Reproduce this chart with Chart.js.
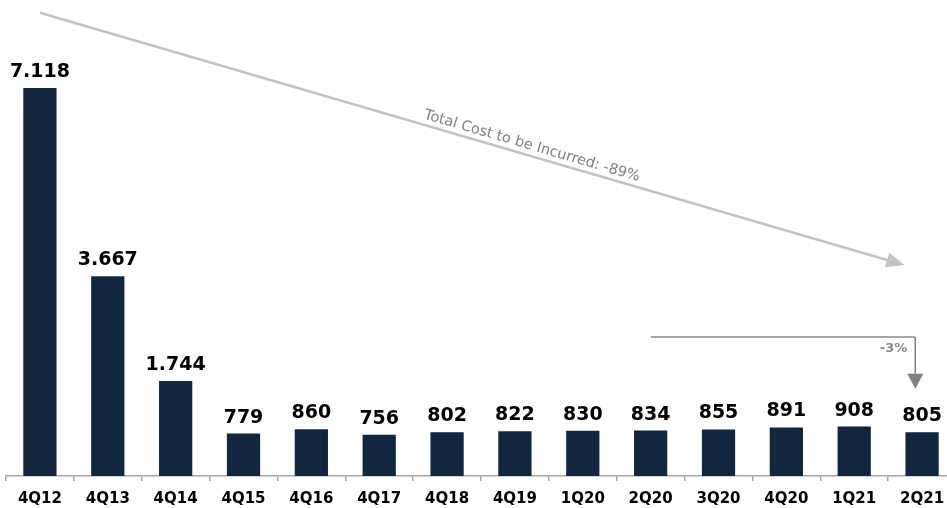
<!DOCTYPE html>
<html>
<head>
<meta charset="utf-8">
<script src="https://cdn.jsdelivr.net/npm/chart.js@4.4.1/dist/chart.umd.min.js"></script>
<style>
  html, body { margin: 0; padding: 0; background: #ffffff; overflow: hidden; }
  #wrap { width: 960px; height: 508px; position: relative; }
</style>
</head>
<body>
<div id="wrap"><canvas id="c"></canvas></div>
<script>
// ---- data ----
const categories = ['4Q12','4Q13','4Q14','4Q15','4Q16','4Q17','4Q18','4Q19','1Q20','2Q20','3Q20','4Q20','1Q21','2Q21'];
const values = [7118, 3667, 1744, 779, 860, 756, 802, 822, 830, 834, 855, 891, 908, 805];
const yMax = 8000;
// annotation anchors (category index, value)
const trendFrom = [0, 8500];
const trendTo = [12.74, 3870];
const trendLabel = 'Total Cost to be Incurred: -89%';
const changeFromIndex = 9;
const changeToIndex = 12.9;
const changeLevel = 2550;
const changeTip = 1600;
const changeLabel = '-3%';

function fmt(v) {
  return String(v).replace(/\B(?=(\d{3})+(?!\d))/g, '.');
}

function arrow(ctx, x1, y1, x2, y2, color, width, headLen, headW) {
  const ang = Math.atan2(y2 - y1, x2 - x1);
  const bx = x2 - headLen * Math.cos(ang), by = y2 - headLen * Math.sin(ang);
  ctx.save();
  ctx.strokeStyle = color; ctx.fillStyle = color; ctx.lineWidth = width;
  ctx.beginPath(); ctx.moveTo(x1, y1); ctx.lineTo(bx, by); ctx.stroke();
  ctx.beginPath();
  ctx.moveTo(x2, y2);
  ctx.lineTo(bx + headW / 2 * Math.sin(ang), by - headW / 2 * Math.cos(ang));
  ctx.lineTo(bx - headW / 2 * Math.sin(ang), by + headW / 2 * Math.cos(ang));
  ctx.closePath(); ctx.fill();
  ctx.restore();
}

const overlay = {
  id: 'overlay',
  afterDraw(chart) {
    const ctx = chart.ctx;
    const xs = chart.scales.x, ys = chart.scales.y;
    // value labels
    const meta = chart.getDatasetMeta(0);
    ctx.save();
    ctx.font = 'bold 19px "DejaVu Sans", Verdana, sans-serif';
    ctx.fillStyle = '#000000';
    ctx.textAlign = 'center';
    ctx.textBaseline = 'alphabetic';
    meta.data.forEach((bar, i) => {
      ctx.fillText(fmt(values[i]), bar.x, bar.y - 11);
    });
    ctx.restore();

    // trend arrow
    const x1 = xs.getPixelForValue(trendFrom[0]), y1 = ys.getPixelForValue(trendFrom[1]);
    const x2 = xs.getPixelForValue(trendTo[0]), y2 = ys.getPixelForValue(trendTo[1]);
    arrow(ctx, x1, y1, x2, y2, '#c3c3c3', 2.5, 18, 15);
    const ang = Math.atan2(y2 - y1, x2 - x1);
    const t = 0.566;
    const mx = x1 + (x2 - x1) * t, my = y1 + (y2 - y1) * t;
    ctx.save();
    ctx.translate(mx, my);
    ctx.rotate(ang);
    ctx.font = '14.5px "DejaVu Sans", Verdana, sans-serif';
    ctx.fillStyle = '#808080';
    ctx.textAlign = 'center';
    ctx.textBaseline = 'alphabetic';
    ctx.fillText(trendLabel, 0, -6);
    ctx.restore();

    // change bracket
    const hx1 = xs.getPixelForValue(changeFromIndex);
    const hx2 = xs.getPixelForValue(changeToIndex);
    const hy = ys.getPixelForValue(changeLevel);
    const ty = ys.getPixelForValue(changeTip);
    ctx.save();
    ctx.strokeStyle = '#8a8a8a'; ctx.lineWidth = 1.5;
    ctx.beginPath(); ctx.moveTo(hx1, hy); ctx.lineTo(hx2, hy); ctx.stroke();
    ctx.restore();
    arrow(ctx, hx2, hy, hx2, ty, '#808080', 1.5, 15, 16);
    ctx.save();
    ctx.font = 'bold 13px "DejaVu Sans", Verdana, sans-serif';
    ctx.fillStyle = '#8a8a8a';
    ctx.textAlign = 'right';
    ctx.textBaseline = 'middle';
    ctx.fillText(changeLabel, hx2 - 8, hy + 12);
    ctx.restore();
  }
};

new Chart(document.getElementById('c'), {
  type: 'bar',
  data: {
    labels: categories,
    datasets: [{
      data: values,
      backgroundColor: '#132640',
      borderWidth: 0,
      barPercentage: 0.49,
      categoryPercentage: 1.0
    }]
  },
  options: {
    responsive: true,
    maintainAspectRatio: false,
    animation: false,
    layout: { padding: { top: 40, left: 6, right: 4, bottom: 0 } },
    plugins: { legend: { display: false }, tooltip: { enabled: false } },
    scales: {
      x: {
        afterFit(s) { s.height = 32; },
        border: { display: true, color: '#a6a6a6', width: 1.5 },
        grid: { display: true, drawOnChartArea: false, drawTicks: true, tickLength: 5, color: '#a6a6a6', lineWidth: 1.5, offset: true },
        ticks: {
          autoSkip: false, maxRotation: 0, padding: 9,
          color: '#000000',
          font: { family: '"DejaVu Sans", Verdana, sans-serif', size: 15, weight: 'bold' }
        }
      },
      y: {
        display: false,
        min: 0, max: yMax
      }
    }
  },
  plugins: [overlay]
});
</script>
</body>
</html>
